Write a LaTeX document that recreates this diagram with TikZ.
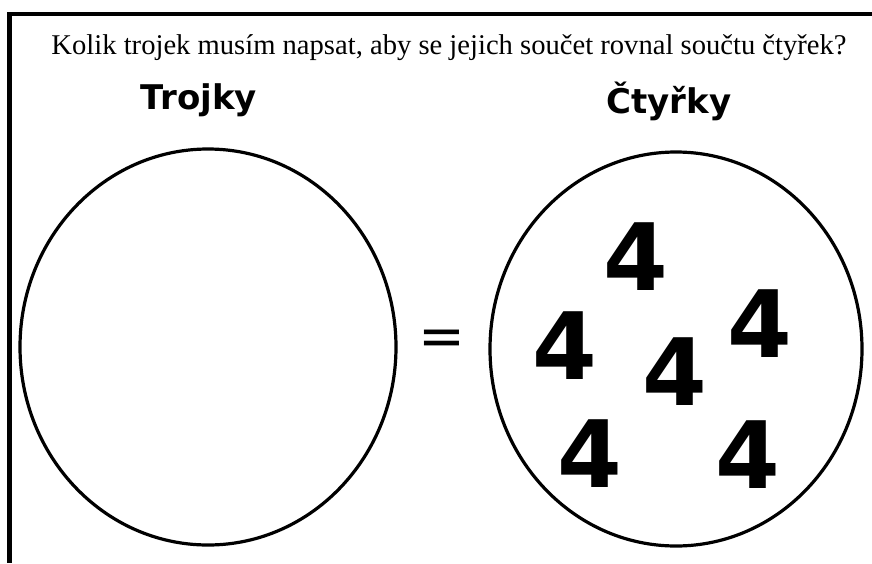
\documentclass[tikz,border=0pt]{standalone}
\usepackage{fontspec}
\setmainfont{Liberation Serif}
\newfontfamily\handfont{DejaVu Sans}
\begin{document}
\begin{tikzpicture}[x=1pt,y=-1pt,
	heading/.style={font=\handfont\bfseries\fontsize{34}{40}\selectfont, anchor=base, inner sep=0pt},
	four/.style={font=\handfont\bfseries\fontsize{93}{100}\selectfont, inner sep=0pt},
	ring/.style={line width=3.2pt}]
	
	% Fix canvas
	\useasboundingbox (0,0) rectangle (872,563);
	
	% Draw frame (top and left only)
	\draw[line width=4.5pt] (872,14) -- (9.5,14) -- (9.5,563);
	
	% Question
	\node[anchor=base, inner sep=0pt, font=\fontsize{28.6}{34}\selectfont] (question) at (449,54)
		{Kolik trojek musím napsat, aby se jejich součet rovnal součtu čtyřek?};
	
	% Headings
	\node[heading] (trojky) at (199,109) {Trojky};
	\node[heading] (ctyrky) at (669,113) {Čtyřky};
	
	% Draw the two sets
	\draw[ring] (208,347) ellipse (188 and 198);
	\draw[ring] (676,349) ellipse (186 and 197);
	
	% Equals sign
	\node[inner sep=0pt, font=\handfont\fontsize{56}{60}\selectfont] (equal) at (442,343) {=};
	
	% Fours
	\node[four] (f1) at (636,257) {4};
	\node[four] (f2) at (565,346) {4};
	\node[four] (f3) at (675,372) {4};
	\node[four] (f4) at (760,324) {4};
	\node[four] (f5) at (590,454) {4};
	\node[four] (f6) at (748,455) {4};
	
\end{tikzpicture}
\end{document}
